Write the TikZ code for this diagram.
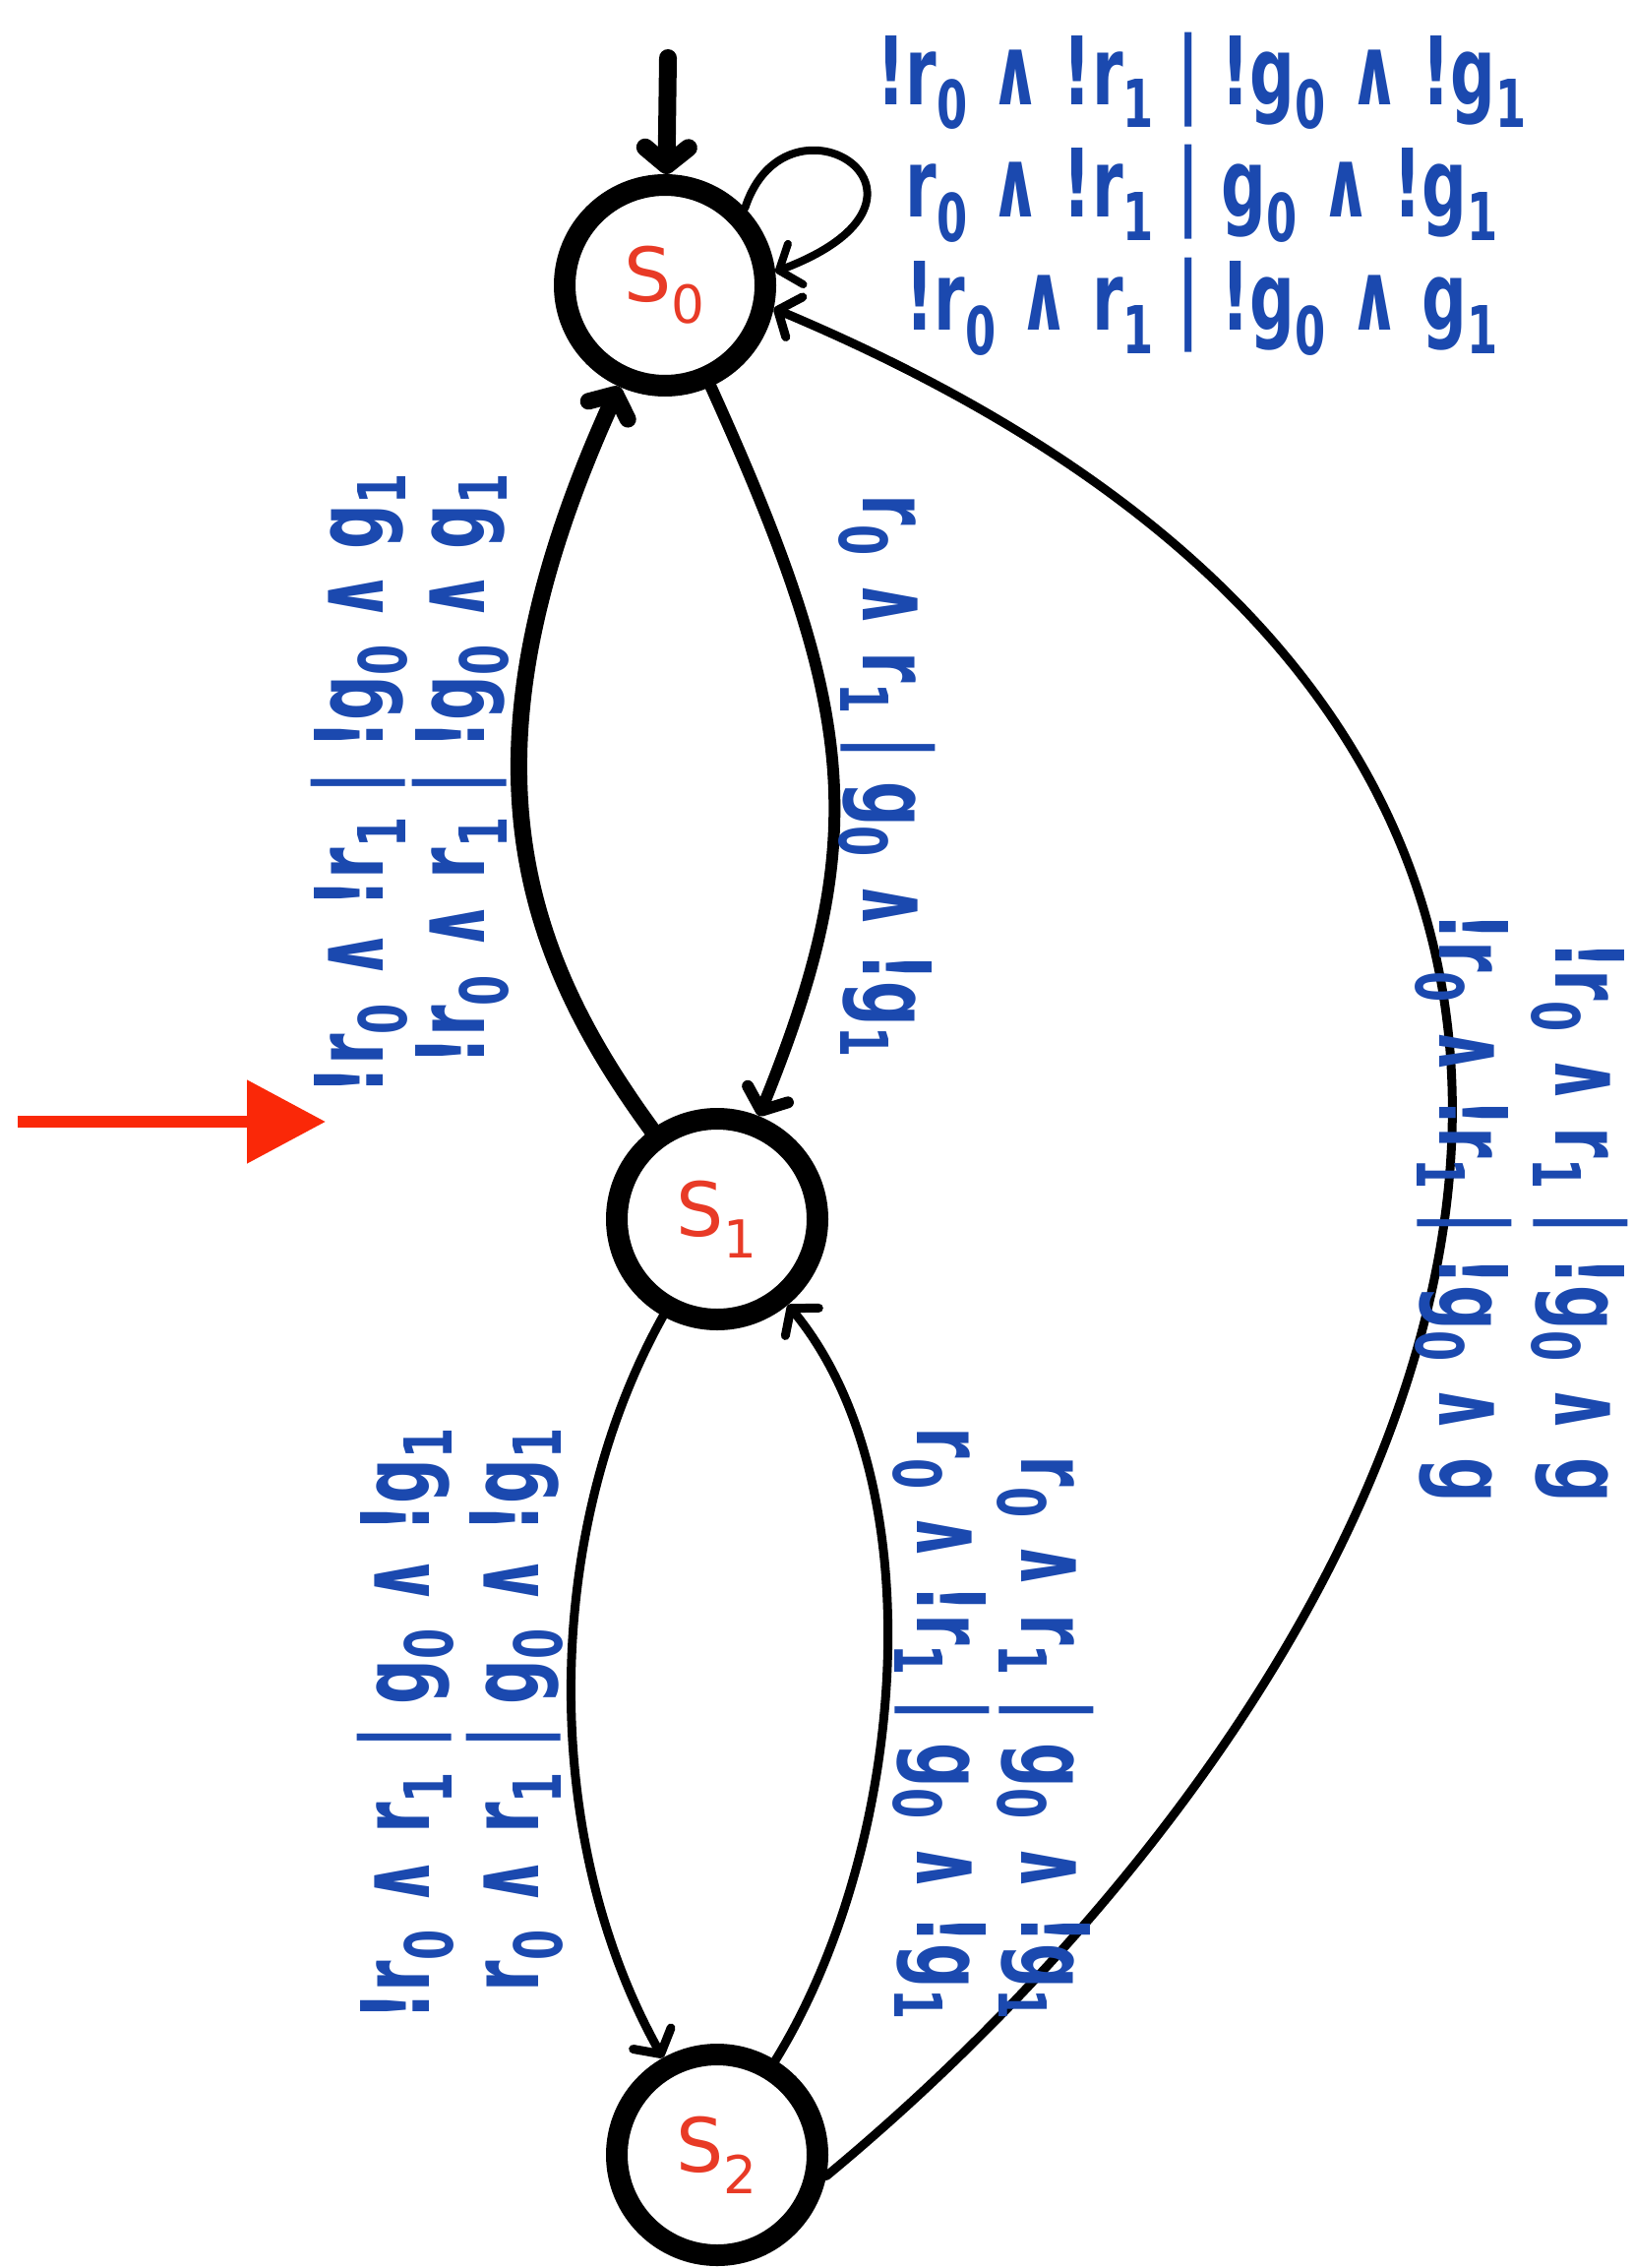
\documentclass[tikz,border=0pt]{standalone}
\usepackage{fontspec}
\setmainfont{DejaVu Sans}
\usetikzlibrary{arrows.meta}
\definecolor{lblue}{RGB}{27,73,175}
\definecolor{sred}{RGB}{232,58,38}
\definecolor{arred}{RGB}{250,40,8}
\newcommand\sbs[1]{\textsubscript{#1}}
\newcommand\lblbox[2]{\scalebox{1}[1.5]{\fontsize{32}{#1}\selectfont\bfseries\begin{tabular}{@{}r@{\ |\ }l@{}}#2\end{tabular}}}
\tikzset{
  state/.style={circle, draw=black, line width=11pt, minimum size=102pt, inner sep=0pt,
    text=sred, font=\fontsize{38}{38}\selectfont},
  lbl/.style={text=lblue, inner sep=0pt},
  tipb/.style={-{Straight Barb[length=9pt,width=22pt,round]}},
  conn/.style={draw=black, line cap=round, tipb, line width=#1},
  redarrow/.style={draw=arred, line width=6pt, -{Triangle[length=40pt,width=41pt]}}
}
\begin{document}
\begin{tikzpicture}[x=0.5pt, y=-0.5pt]
\fill[white] (0,0) rectangle (1659,2305);
\path[use as bounding box] (0,0) rectangle (1659,2305);

% states
\node[state] (s0) at (676,290) {S\sbs{0}};
\node[state] (s1) at (729,1239) {S\sbs{1}};
\node[state] (s2) at (729,2190) {S\sbs{2}};

% initial arrow
\coordinate (init) at (679,59);
\draw[conn=9pt] (init) -- (s0);

% self loop
\draw[conn=4pt] (s0.44) .. controls (800,80) and (990,200) .. (s0.7);

% s1 -> s0 (left, heavy)
\draw[conn=8.5pt] (s1) .. controls (525,960) and (462,760) .. (s0);
% s0 -> s1 (right)
\draw[conn=6pt] (s0) .. controls (871,721) and (887,850) .. (s1);
% s1 -> s2 (left)
\draw[conn=4.5pt] (s1) .. controls (550,1560) and (550,1870) .. (s2);
% s2 -> s1 (right)
\draw[conn=4.5pt] (s2) .. controls (920,1880) and (953,1510) .. (s1);
% s2 -> s0 (big arc)
\draw[conn=4.5pt] (s2.-11) .. controls (1422,1730) and (1939,798) .. (s0.-12);

% red annotation arrow
\coordinate (ra0) at (18,1140);
\coordinate (ra1) at (331,1140);
\draw[redarrow] (ra0) -- (ra1);

% labels
\node[lbl] (Lloop) at (1222,198) {\lblbox{38.3pt}{!r\sbs0 ∧ !r\sbs1 & !g\sbs0 ∧ !g\sbs1\\ r\sbs0 ∧ !r\sbs1 & g\sbs0 ∧ !g\sbs1\\ !r\sbs0 ∧ r\sbs1 & !g\sbs0 ∧ g\sbs1}};

\node[lbl, rotate=90] (L10) at (419,796) {\lblbox{33pt}{!r\sbs0 ∧ !r\sbs1 & !g\sbs0 ∧ g\sbs1\\ !r\sbs0 ∧ r\sbs1 & !g\sbs0 ∧ g\sbs1}};

\node[lbl, rotate=-90] (L01) at (900,789) {\lblbox{32pt}{r\sbs0 ∧ r\sbs1 & g\sbs0 ∧ !g\sbs1}};

\node[lbl, rotate=-90] (L20) at (1546,1227) {\lblbox{39.3pt}{!r\sbs0 ∧ r\sbs1 & !g\sbs0 ∧ g\\ !r\sbs0 ∧ !r\sbs1 & !g\sbs0 ∧ g}};

\node[lbl, rotate=90] (L12) at (470,1752) {\lblbox{37pt}{!r\sbs0 ∧ r\sbs1 & g\sbs0 ∧ !g\sbs1\\ r\sbs0 ∧ r\sbs1 & g\sbs0 ∧ !g\sbs1}};

\node[lbl, rotate=-90] (L21) at (1007,1752) {\lblbox{35.3pt}{r\sbs0 ∧ r\sbs1 & g\sbs0 ∧ !g\sbs1\\ r\sbs0 ∧ !r\sbs1 & g\sbs0 ∧ !g\sbs1}};
\end{tikzpicture}
\end{document}
